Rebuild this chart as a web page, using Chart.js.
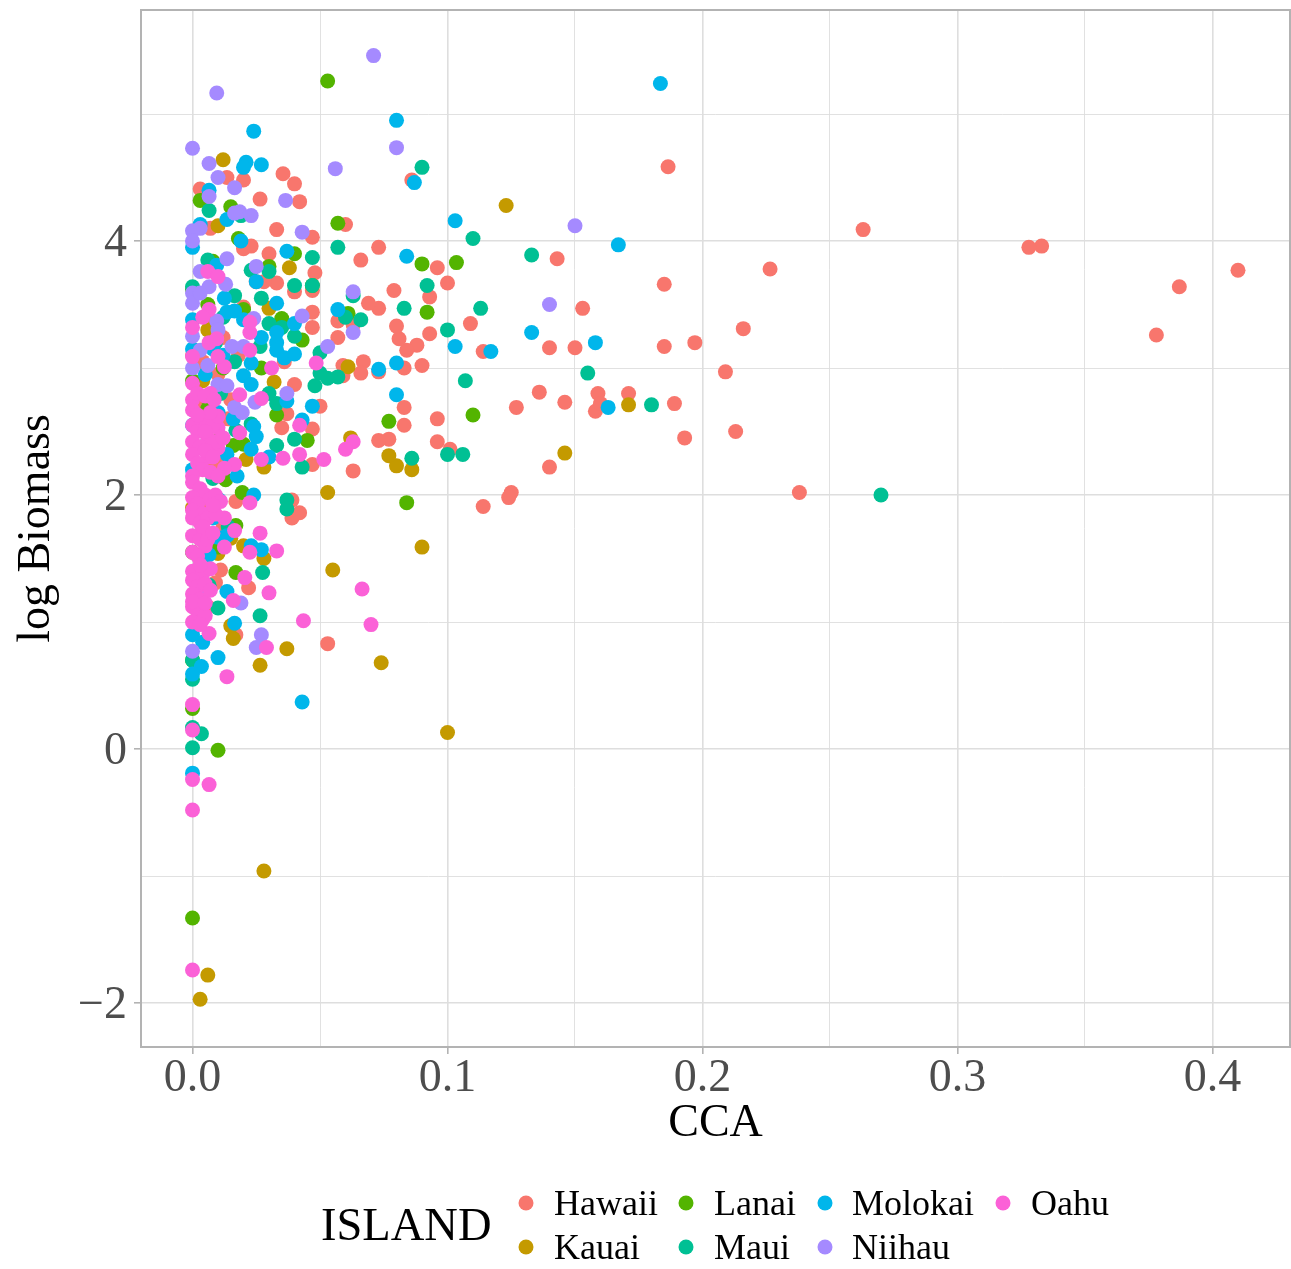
<!DOCTYPE html>
<html>
<head>
<meta charset="utf-8">
<title>log Biomass vs CCA</title>
<script src="https://cdn.jsdelivr.net/npm/chart.js@4"></script>
<style>
  html, body { margin: 0; padding: 0; background: #fff; }
  canvas { display: block; }
</style>
</head>
<body>
<canvas id="chart" width="1291" height="1269"></canvas>
<script>
// values: [CCA, log Biomass]
const hawaii = [[0.41,3.77],[0.387,3.64],[0.378,3.26],[0.333,3.96],[0.328,3.95],[0.263,4.09],[0.2265,3.78],[0.238,2.02],[0.216,3.31],[0.213,2.5],[0.209,2.97],[0.197,3.2],[0.193,2.45],[0.189,2.72],[0.185,3.17],[0.185,3.66],[0.1865,4.585],[0.171,2.8],[0.159,2.8],[0.158,2.66],[0.16,2.72],[0.153,3.47],[0.15,3.16],[0.146,2.73],[0.143,3.86],[0.14,3.16],[0.14,2.22],[0.136,2.81],[0.127,2.69],[0.125,2.02],[0.124,1.98],[0.114,3.13],[0.114,1.91],[0.109,3.35],[0.1,3.67],[0.101,2.36],[0.096,3.79],[0.096,2.6],[0.096,2.42],[0.093,3.56],[0.093,3.27],[0.09,3.02],[0.088,3.18],[0.086,4.48],[0.084,3.14],[0.083,3.0],[0.083,2.69],[0.083,2.55],[0.081,3.23],[0.08,3.33],[0.079,3.61],[0.077,2.44],[0.073,3.47],[0.073,2.97],[0.073,2.43],[0.073,3.95],[0.069,3.51],[0.066,3.85],[0.067,3.05],[0.066,2.96],[0.063,2.19],[0.06,4.13],[0.059,3.02],[0.059,2.94],[0.057,3.37],[0.057,3.24],[0.063,3.34],[0.05,2.7],[0.053,0.83],[0.048,3.75],[0.047,4.03],[0.047,3.61],[0.047,3.44],[0.047,3.32],[0.047,2.52],[0.047,2.24],[0.042,4.31],[0.04,4.45],[0.0355,4.53],[0.033,4.09],[0.033,3.67],[0.04,3.6],[0.039,1.96],[0.039,1.82],[0.042,1.86],[0.04,2.87],[0.037,2.64],[0.035,2.53],[0.03,3.9],[0.0265,4.33],[0.028,3.68],[0.025,3.68],[0.023,3.96],[0.02,3.94],[0.02,4.48],[0.0135,4.5],[0.003,4.41],[0.007,4.1],[0.036,3.05],[0.02,3.48],[0.015,2.75],[0.012,2.3],[0.017,1.95],[0.011,1.41],[0.009,1.31],[0.022,1.27],[0.006,1.12],[0.017,0.9],[0.012,3.24],[0.018,3.1],[0.006,3.4],[0.01,2.95],[0.004,3.05],[0.0,3.1],[0.014,2.6],[0.008,2.25],[0.003,2.7],[0.005,1.95],[0.012,1.75]];
const kauai = [[0.123,4.28],[0.171,2.71],[0.146,2.33],[0.1,0.13],[0.09,1.59],[0.086,2.2],[0.08,2.23],[0.077,2.31],[0.074,0.68],[0.061,3.01],[0.055,1.41],[0.053,2.02],[0.062,2.45],[0.037,0.79],[0.0265,0.66],[0.016,0.87],[0.015,0.97],[0.028,-0.96],[0.006,-1.78],[0.003,-1.97],[0.012,4.64],[0.01,4.12],[0.038,3.79],[0.03,3.47],[0.032,2.89],[0.021,2.28],[0.028,2.22],[0.02,1.6],[0.028,1.5],[0.015,1.66],[0.01,1.54],[0.004,2.9],[0.0,1.9],[0.006,3.3]];
const lanai = [[0.053,5.26],[0.01,-0.01],[0,-1.33],[0,0.32],[0.057,4.14],[0.09,3.82],[0.1035,3.83],[0.092,3.44],[0.061,3.43],[0.11,2.63],[0.084,1.94],[0.077,2.58],[0.045,2.43],[0.033,2.63],[0.0195,2.02],[0.016,2.39],[0.02,2.4],[0.04,3.9],[0.047,3.65],[0.035,3.39],[0.03,3.8],[0.003,4.32],[0.015,4.27],[0.018,4.02],[0.043,3.22],[0.02,3.46],[0.027,3.0],[0.011,2.46],[0.017,1.39],[0.017,1.76],[0.01,1.59],[0.013,2.12],[0.006,3.5],[0.012,3.0],[0,2.9],[0,3.62],[0.008,3.84],[0.006,2.68],[0.009,1.96],[0,1.55],[0,0.7]];
const maui = [[0.27,2.0],[0.18,2.71],[0.155,2.96],[0.133,3.89],[0.11,4.02],[0.113,3.47],[0.107,2.9],[0.106,2.32],[0.1,2.32],[0.1,3.3],[0.092,3.65],[0.09,4.58],[0.083,3.47],[0.086,2.29],[0.063,3.57],[0.057,3.95],[0.057,2.93],[0.053,2.92],[0.066,3.38],[0.06,3.4],[0.05,3.12],[0.048,2.86],[0.047,3.87],[0.047,3.65],[0.04,3.65],[0.04,2.44],[0.037,1.96],[0.037,1.89],[0.0265,1.05],[0.0275,1.39],[0.0065,4.24],[0.019,4.2],[0.006,3.85],[0.03,3.76],[0.023,3.77],[0.027,3.55],[0.0165,3.57],[0.05,2.96],[0.03,3.35],[0.035,3.32],[0.04,3.25],[0.0265,3.17],[0.0165,3.05],[0,3.64],[0.03,2.8],[0.033,2.72],[0.023,2.56],[0.017,2.51],[0.033,2.39],[0.043,2.22],[0.011,2.8],[0.004,2.38],[0.0065,1.29],[0.01,1.11],[0,0.7],[0,0.55],[0,0.17],[0.0035,0.12],[0,0.01],[0.008,2.13],[0.005,1.82],[0.012,3.4],[0.009,3.2],[0.014,1.75]];
const molokai = [[0.1835,5.24],[0.08,4.95],[0.024,4.865],[0.087,4.46],[0.167,3.97],[0.103,4.16],[0.084,3.88],[0.133,3.28],[0.103,3.17],[0.117,3.13],[0.158,3.2],[0.163,2.69],[0.08,3.04],[0.08,2.79],[0.073,2.99],[0,-0.19],[0.021,4.62],[0.02,4.58],[0.027,4.6],[0.0065,4.4],[0.0135,4.17],[0.003,4.13],[0.019,4.0],[0.037,3.92],[0,3.95],[0.0095,3.81],[0.025,3.68],[0.033,3.51],[0.057,3.46],[0.04,3.35],[0.033,3.28],[0.033,3.2],[0.033,3.14],[0.036,3.08],[0.04,3.11],[0.027,3.24],[0.023,3.04],[0.02,2.94],[0.0125,3.55],[0.0165,3.45],[0.0135,3.44],[0.02,3.38],[0,3.38],[0.023,2.87],[0.037,2.74],[0.047,2.7],[0.043,2.59],[0.024,2.54],[0.025,2.46],[0.023,2.36],[0.03,2.3],[0.0135,2.32],[0.0175,2.15],[0.01,2.65],[0.016,2.6],[0.024,2.0],[0.0105,1.96],[0.0095,1.67],[0.0135,1.68],[0.023,1.6],[0.027,1.57],[0.0065,1.53],[0.0135,1.24],[0.008,1.82],[0.0165,0.99],[0.0035,0.65],[0,0.59],[0.01,0.72],[0.004,0.84],[0,0.9],[0.043,0.37],[0,2.55],[0.005,2.95],[0.008,3.15],[0.012,3.1],[0,2.2],[0,3.15],[0.006,2.4]];
const niihau = [[0.071,5.46],[0.0095,5.165],[0,4.73],[0.08,4.735],[0.056,4.57],[0.0065,4.61],[0.01,4.5],[0.15,4.12],[0.0365,4.32],[0.0165,4.42],[0.0065,4.35],[0.0185,4.23],[0.0165,4.22],[0.023,4.2],[0.043,4.07],[0.003,4.1],[0,4.08],[0,4.0],[0.0135,3.86],[0.025,3.8],[0.003,3.76],[0.0065,3.64],[0.013,3.66],[0,3.59],[0,3.51],[0.003,3.59],[0.043,3.41],[0.063,3.6],[0.053,3.17],[0.063,3.28],[0.14,3.5],[0.0095,3.37],[0.01,3.3],[0,3.25],[0.024,3.39],[0.0155,3.17],[0.02,3.17],[0.003,3.14],[0.006,3.02],[0,3.0],[0.01,2.87],[0.0135,2.86],[0.037,2.8],[0.0245,2.73],[0.0165,2.69],[0.0195,2.65],[0.019,1.15],[0.004,1.23],[0.027,0.9],[0.025,0.8],[0,0.77]];
const oahu = [[0,-0.48],[0,-0.24],[0.0065,-0.28],[0,-1.74],[0,0.15],[0,0.35],[0.0135,0.57],[0.0065,0.91],[0.029,0.8],[0.0435,1.01],[0.07,0.98],[0.0665,1.26],[0.03,1.23],[0.0205,1.35],[0.016,1.17],[0.033,1.56],[0.0225,1.55],[0.0265,1.7],[0.0125,1.59],[0.0165,1.72],[0.0125,1.82],[0.0225,1.94],[0.063,2.42],[0.06,2.36],[0.0515,2.28],[0.042,2.55],[0.042,2.32],[0.0355,2.29],[0.027,2.28],[0.0185,2.49],[0.0185,2.79],[0.027,2.76],[0.0165,2.24],[0.0125,2.21],[0.01,2.37],[0.01,2.53],[0.007,2.8],[0.0485,3.04],[0.031,3.0],[0.0225,3.14],[0.0225,3.28],[0.0225,3.36],[0.0125,3.01],[0.01,3.09],[0.0065,3.2],[0.0095,3.23],[0.0065,3.46],[0.004,3.4],[0,3.32],[0,3.09],[0.006,3.76],[0.01,3.72],[0,2.88],[0,2.75],[0.002,2.8],[0.005,2.78],[0,2.67],[0.004,2.6],[0.007,2.58],[0,2.55],[0.002,2.5],[0.006,2.45],[0,2.42],[0.003,2.38],[0,2.32],[0.006,2.3],[0.002,2.25],[0.004,2.2],[0,2.15],[0.007,2.18],[0,2.1],[0.003,2.05],[0.005,2.0],[0,1.98],[0.002,1.93],[0.007,1.97],[0,1.88],[0.004,1.85],[0,1.82],[0.003,1.78],[0.006,1.82],[0,1.68],[0.003,1.65],[0.005,1.6],[0,1.55],[0.002,1.52],[0,1.4],[0.004,1.38],[0,1.33],[0.002,1.28],[0.005,1.3],[0,1.22],[0.003,1.18],[0,1.12],[0.002,1.08],[0.004,1.02],[0,1.0],[0.005,1.05],[0,1.16],[0.008,2.55],[0.009,2.42],[0.01,2.15],[0.0085,2.75],[0.005,2.35],[0.009,2.0],[0.011,1.95],[0.009,1.85],[0.01,2.62],[0.012,2.45],[0.008,2.3],[0.006,1.65],[0.007,1.42],[0.004,1.75],[0.008,1.7],[0.005,1.15],[0.007,1.25],[0.003,0.98],[0.007,2.65],[0.005,2.5],[0.002,2.63],[0.008,1.92],[0.003,1.45]];

const islands = ['Hawaii', 'Kauai', 'Lanai', 'Maui', 'Molokai', 'Niihau', 'Oahu'];
const islandValues = [hawaii, kauai, lanai, maui, molokai, niihau, oahu];
const islandColors = ['#F8766D', '#C49A00', '#53B400', '#00C094', '#00B6EB', '#A58AFF', '#FB61D7'];

const serif = '"Liberation Serif", serif';
const gridColor = '#DEDEDE';
const tickColor = '#B3B3B3';

// Legend laid out by column like ggplot does, chart.js only fills by row
const legendColumns = [
    { key: 526, text: 554 },
    { key: 686, text: 714 },
    { key: 825, text: 852 },
    { key: 1003, text: 1031 },
];
const legendRows = [1203, 1247];

const islandLegend = {
    id: 'islandLegend',
    afterDraw(chart) {
        const ctx = chart.ctx;
        ctx.save();
        ctx.fillStyle = '#000';
        ctx.textBaseline = 'middle';
        ctx.font = '46.5px ' + serif;
        ctx.fillText('ISLAND', 321, 1228);
        ctx.font = '36px ' + serif;
        islands.forEach((name, i) => {
            const col = legendColumns[Math.floor(i / 2)];
            const y = legendRows[i % 2];
            ctx.fillStyle = islandColors[i];
            ctx.beginPath();
            ctx.arc(col.key, y, 7.5, 0, Math.PI * 2);
            ctx.fill();
            ctx.fillStyle = '#000';
            ctx.fillText(name, col.text, y + 3);
        });
        ctx.restore();
    }
};

const panelBorder = {
    id: 'panelBorder',
    afterDatasetsDraw(chart) {
        const { left, top, width, height } = chart.chartArea;
        const ctx = chart.ctx;
        ctx.save();
        ctx.strokeStyle = '#B3B3B3';
        ctx.lineWidth = 2;
        ctx.strokeRect(left, top, width, height);
        ctx.restore();
    }
};

// Liberation Serif sits a bit high with a middle baseline, nudge the y labels down
const nudgeYLabels = {
    id: 'nudgeYLabels',
    afterLayout(chart) {
        chart.scales.y.getLabelItems().forEach(item => {
            item.options.translation[1] += 3;
        });
    }
};

const isMajorX = v => Math.round(v * 100) % 10 === 0;
const isMajorY = v => Math.round(v) % 2 === 0;

new Chart(document.getElementById('chart'), {
    type: 'scatter',
    data: {
        datasets: islands.map((name, i) => ({
            label: name,
            data: islandValues[i].map(p => ({ x: p[0], y: p[1] })),
            backgroundColor: islandColors[i],
            borderWidth: 0,
            pointRadius: 7.5,
            order: islands.length - i, // lower order is drawn on top, Oahu goes last
        }))
    },
    options: {
        responsive: false,
        animation: false,
        layout: { autoPadding: false, padding: { top: 10, right: 1 } },
        plugins: { legend: { display: false }, tooltip: { enabled: false } },
        scales: {
            x: {
                min: -0.0202,
                max: 0.4304,
                afterFit: scale => {
                    // keep the panel where the reference has it
                    scale.height = 222;
                    scale.paddingLeft = 0;
                    scale.paddingRight = 0;
                },
                border: { display: false },
                grid: {
                    color: gridColor,
                    lineWidth: c => isMajorX(c.tick.value) ? 1.6 : 0.9,
                    tickLength: 7,
                    tickColor: c => isMajorX(c.tick.value) ? tickColor : 'rgba(0,0,0,0)',
                },
                ticks: {
                    stepSize: 0.05,
                    includeBounds: false,
                    autoSkip: false,
                    maxRotation: 0,
                    padding: -3,
                    color: '#4D4D4D',
                    font: { family: serif, size: 46 },
                    callback: v => isMajorX(v) ? v.toFixed(1) : '',
                },
                title: {
                    display: true,
                    text: 'CCA',
                    color: '#000',
                    font: { family: serif, size: 46 },
                    padding: { top: 0, bottom: 117 },
                },
            },
            y: {
                min: -2.346,
                max: 5.819,
                afterFit: scale => {
                    scale.width = 141;
                    scale.paddingTop = 0;
                    scale.paddingBottom = 0;
                },
                border: { display: false },
                grid: {
                    color: gridColor,
                    lineWidth: c => isMajorY(c.tick.value) ? 1.6 : 0.9,
                    tickLength: 7,
                    tickColor: c => isMajorY(c.tick.value) ? tickColor : 'rgba(0,0,0,0)',
                },
                ticks: {
                    stepSize: 1,
                    includeBounds: false,
                    autoSkip: false,
                    padding: 7,
                    color: '#4D4D4D',
                    font: { family: serif, size: 46 },
                    callback: v => isMajorY(v) ? String(v).replace('-', '\u2212') : '',
                },
                title: {
                    display: true,
                    text: 'log Biomass',
                    color: '#000',
                    font: { family: serif, size: 46 },
                    padding: { top: 9, bottom: 0 },
                },
            },
        },
    },
    plugins: [panelBorder, nudgeYLabels, islandLegend],
});
</script>
</body>
</html>
